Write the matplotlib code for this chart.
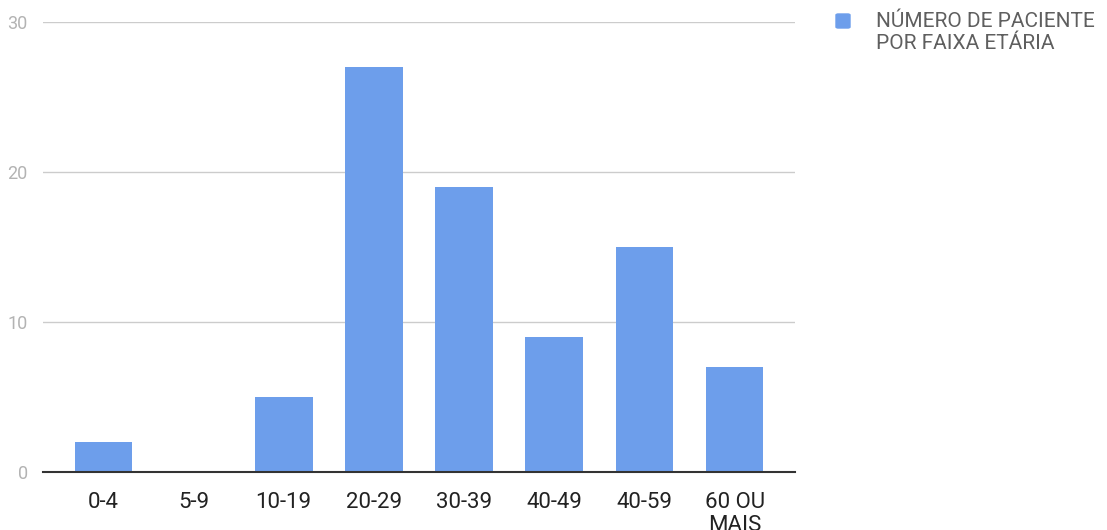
import matplotlib.pyplot as plt
from matplotlib.patches import FancyBboxPatch

plt.rcParams['font.family'] = ['Roboto', 'DejaVu Sans']

# patients per age group
faixas = ['0-4', '5-9', '10-19', '20-29', '30-39', '40-49', '40-59', '60 OU\nMAIS']
pacientes = [2, 0, 5, 27, 19, 9, 15, 7]
yticks = [0, 10, 20, 30]
serie = 'NÚMERO DE PACIENTE\nPOR FAIXA ETÁRIA'

cor = '#6d9eeb'

fig = plt.figure(figsize=(11.07, 5.30), dpi=100)
ax = fig.add_axes([0.0388, 0.1085, 0.6794, 0.85])

x = range(len(faixas))
ax.bar(x, pacientes, width=0.64, color=cor, zorder=3)

ax.set_xlim(-0.67, 7.67)
ax.set_ylim(0, 30)
ax.set_yticks(yticks)
ax.set_xticks(list(x))
ax.set_xticklabels(faixas, fontsize=16, color='#222222', linespacing=1.15)
ax.tick_params(axis='x', length=0, pad=14)
ax.tick_params(axis='y', length=0, pad=11, labelcolor='#b3b3b3', labelsize=13)

ax.grid(axis='y', color='#cccccc', linewidth=1, zorder=0)
for s in ['top', 'right', 'left']:
    ax.spines[s].set_visible(False)
ax.spines['bottom'].set_color('#333333')
ax.spines['bottom'].set_linewidth(1.5)
ax.spines['bottom'].set_zorder(4)

# legend: square swatch + two-line label
W, H = 1107, 530
fig.patches.append(FancyBboxPatch((836 / W, 1 - 28 / H), 14 / W, 14 / H,
                                  boxstyle='round,pad=0,rounding_size=0.002',
                                  transform=fig.transFigure, color=cor))
fig.text(876 / W, 1 - 12 / H, serie, fontsize=15, color='#5f5f5f',
         va='top', ha='left', linespacing=1.2)

fig.savefig('out.png', dpi=100)
